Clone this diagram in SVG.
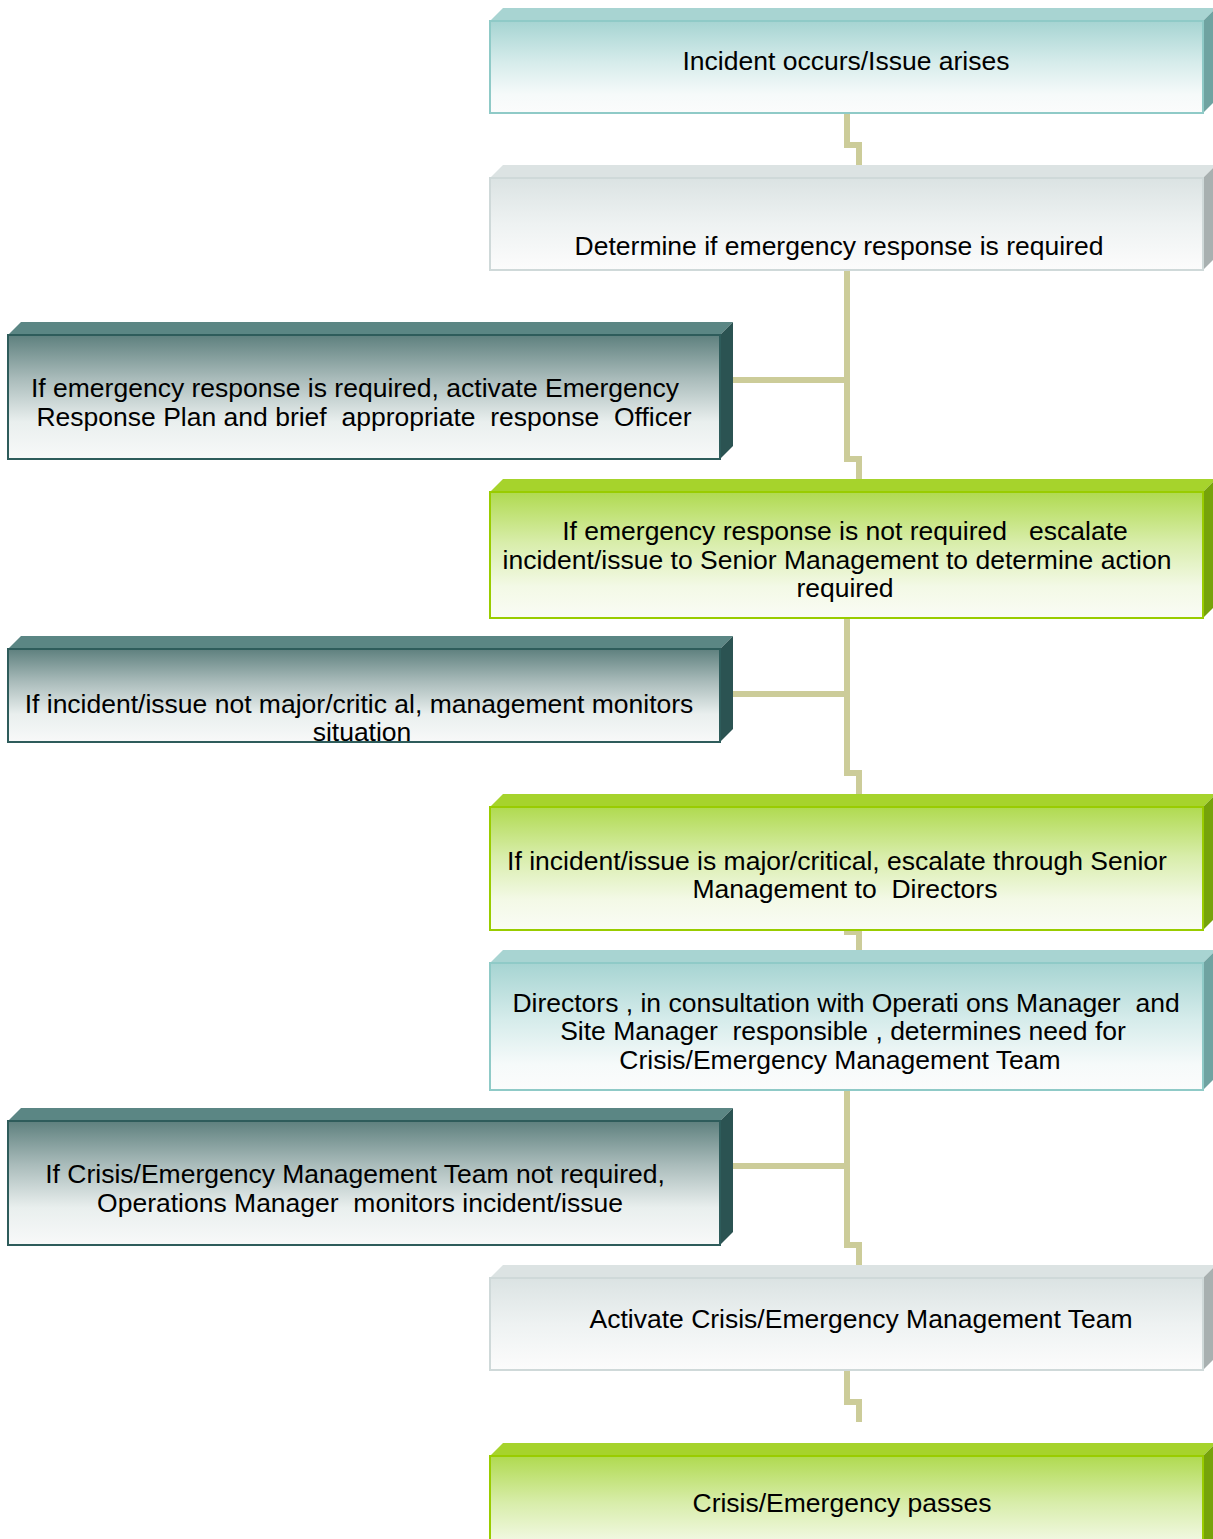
<svg xmlns="http://www.w3.org/2000/svg" width="1213" height="1539" viewBox="0 0 1213 1539">
<defs>
<linearGradient id="gTeal" x1="0" y1="0" x2="0" y2="1">
<stop offset="0" stop-color="#a6d4d2"/><stop offset="0.45" stop-color="#d6eceb"/><stop offset="0.8" stop-color="#f6fafa"/><stop offset="1" stop-color="#fbfcfc"/>
</linearGradient>
<linearGradient id="gGray" x1="0" y1="0" x2="0" y2="1">
<stop offset="0" stop-color="#dbe3e3"/><stop offset="0.5" stop-color="#eef2f2"/><stop offset="1" stop-color="#fcfcfc"/>
</linearGradient>
<linearGradient id="gGreen" x1="0" y1="0" x2="0" y2="1">
<stop offset="0" stop-color="#b0da50"/><stop offset="0.4" stop-color="#d8edaa"/><stop offset="0.75" stop-color="#f3f9e6"/><stop offset="1" stop-color="#fafcf5"/>
</linearGradient>
<linearGradient id="gDark" x1="0" y1="0" x2="0" y2="1">
<stop offset="0" stop-color="#5e807e"/><stop offset="0.35" stop-color="#a9bbba"/><stop offset="0.7" stop-color="#e9efee"/><stop offset="1" stop-color="#f8f9f9"/>
</linearGradient>
</defs>
<style>
.conn{fill:none;stroke:#cccc99;stroke-width:6;stroke-linejoin:miter}
.t{font-family:"Liberation Sans",Arial,sans-serif;font-size:26.5px;fill:#000;text-anchor:middle;white-space:pre}
.teal .f{fill:url(#gTeal);stroke:#8fcac7;stroke-width:2}
.teal .tp{fill:#a8d4d2}
.teal .rt{fill:#6fa3a1}
.gray .f{fill:url(#gGray);stroke:#cfd9d9;stroke-width:2}
.gray .tp{fill:#dce3e3}
.gray .rt{fill:#a8b0b0}
.green .f{fill:url(#gGreen);stroke:#99cc00;stroke-width:2}
.green .tp{fill:#a6d32c}
.green .rt{fill:#76a30a}
.dark .f{fill:url(#gDark);stroke:#2e5c5b;stroke-width:2}
.dark .tp{fill:#5b8684}
.dark .rt{fill:#2b5352}
</style>

<g id="connectors">
<path class="conn" d="M847,113 V145 H859 V165"/>
<path class="conn" d="M847,270 V459 H859 V479"/>
<path class="conn" d="M733,380 H847"/>
<path class="conn" d="M847,618 V773 H859 V794"/>
<path class="conn" d="M733,694 H847"/>
<path class="conn" d="M844,932 H859 V950"/>
<path class="conn" d="M847,1090 V1245 H859 V1265"/>
<path class="conn" d="M733,1166 H847"/>
<path class="conn" d="M847,1370 V1402 H859 V1422"/>
</g>

<g id="n1" class="teal">
<polygon class="tp" points="490,21 503,8 1216,8 1203,21"/>
<polygon class="rt" points="1203,21 1216,8 1216,100 1203,113"/>
<rect class="f" x="490" y="21" width="713" height="92"/>
<text class="t" x="846" y="70">Incident occurs/Issue arises</text>
</g>

<g id="n2" class="gray">
<polygon class="tp" points="490,178 503,165 1216,165 1203,178"/>
<polygon class="rt" points="1203,178 1216,165 1216,257 1203,270"/>
<rect class="f" x="490" y="178" width="713" height="92"/>
<text class="t" x="839" y="255">Determine if emergency response is required</text>
</g>

<g id="n3" class="dark">
<polygon class="tp" points="8,335 21,322 733,322 720,335"/>
<polygon class="rt" points="720,335 733,322 733,446 720,459"/>
<rect class="f" x="8" y="335" width="712" height="124"/>
<text class="t" x="355" y="397">If emergency response is required, activate Emergency</text>
<text class="t" x="364" y="426">Response Plan and brief  appropriate  response  Officer</text>
</g>

<g id="n4" class="green">
<polygon class="tp" points="490,492 503,479 1216,479 1203,492"/>
<polygon class="rt" points="1203,492 1216,479 1216,605 1203,618"/>
<rect class="f" x="490" y="492" width="713" height="126"/>
<text class="t" x="845" y="540">If emergency response is not required   escalate</text>
<text class="t" x="837" y="569">incident/issue to Senior Management to determine action</text>
<text class="t" x="845" y="597">required</text>
</g>

<g id="n5" class="dark">
<polygon class="tp" points="8,649 21,636 733,636 720,649"/>
<polygon class="rt" points="720,649 733,636 733,729 720,742"/>
<rect class="f" x="8" y="649" width="712" height="93"/>
<text class="t" x="359" y="713">If incident/issue not major/critic al, management monitors</text>
<text class="t" x="362" y="741">situation</text>
</g>

<g id="n6" class="green">
<polygon class="tp" points="490,807 503,794 1216,794 1203,807"/>
<polygon class="rt" points="1203,807 1216,794 1216,917 1203,930"/>
<rect class="f" x="490" y="807" width="713" height="123"/>
<text class="t" x="837" y="870">If incident/issue is major/critical, escalate through Senior</text>
<text class="t" x="845" y="898">Management to  Directors</text>
</g>

<g id="n7" class="teal">
<polygon class="tp" points="490,963 503,950 1216,950 1203,963"/>
<polygon class="rt" points="1203,963 1216,950 1216,1077 1203,1090"/>
<rect class="f" x="490" y="963" width="713" height="127"/>
<text class="t" x="846" y="1012">Directors , in consultation with Operati ons Manager  and</text>
<text class="t" x="843" y="1040">Site Manager  responsible , determines need for</text>
<text class="t" x="840" y="1069">Crisis/Emergency Management Team</text>
</g>

<g id="n8" class="dark">
<polygon class="tp" points="8,1121 21,1108 733,1108 720,1121"/>
<polygon class="rt" points="720,1121 733,1108 733,1232 720,1245"/>
<rect class="f" x="8" y="1121" width="712" height="124"/>
<text class="t" x="355" y="1183">If Crisis/Emergency Management Team not required,</text>
<text class="t" x="360" y="1212">Operations Manager  monitors incident/issue</text>
</g>

<g id="n9" class="gray">
<polygon class="tp" points="490,1278 503,1265 1216,1265 1203,1278"/>
<polygon class="rt" points="1203,1278 1216,1265 1216,1357 1203,1370"/>
<rect class="f" x="490" y="1278" width="713" height="92"/>
<text class="t" x="861" y="1328">Activate Crisis/Emergency Management Team</text>
</g>

<g id="n10" class="green">
<polygon class="tp" points="490,1456 503,1443 1216,1443 1203,1456"/>
<polygon class="rt" points="1203,1456 1216,1443 1216,1560 1203,1573"/>
<rect class="f" x="490" y="1456" width="713" height="117"/>
<text class="t" x="842" y="1512">Crisis/Emergency passes</text>
</g>
</svg>
